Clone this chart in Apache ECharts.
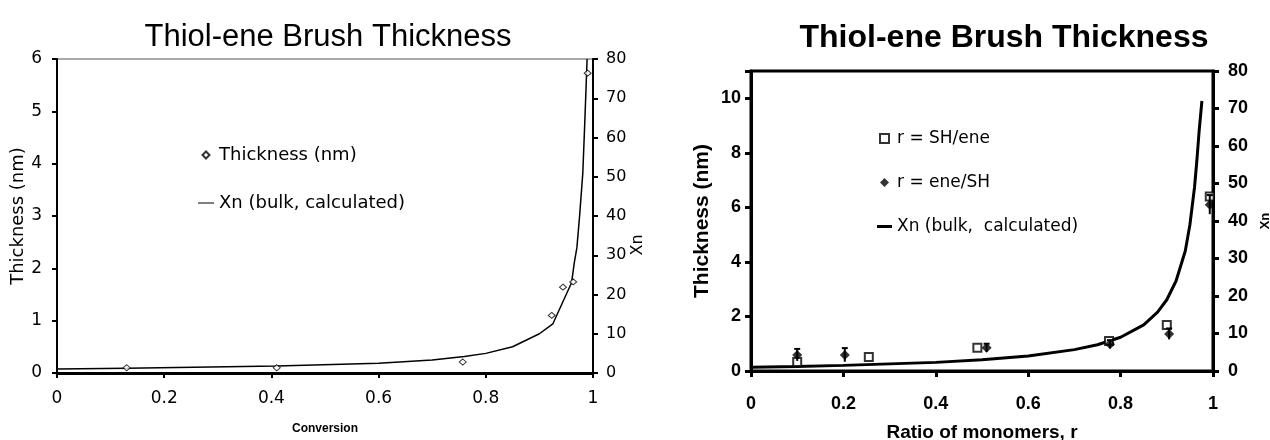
<!DOCTYPE html>
<html>
<head>
<meta charset="utf-8">
<script src="https://cdn.jsdelivr.net/npm/echarts@6/dist/echarts.min.js"></script>
<style>
html, body { margin: 0; background: #fff; }
#main { width: 1270px; height: 440px; }
</style>
</head>
<body>
<div id="main"></div>
<script>
// left chart: thickness vs conversion
var convTicks = ['0', '0.2', '0.4', '0.6', '0.8', '1'];
var convThickX = [0.13, 0.41, 0.757, 0.923, 0.944, 0.963, 0.99];
var convThickY = [0.10, 0.10, 0.21, 1.10, 1.64, 1.74, 5.73];
var convXnX = [0, 0.13, 0.41, 0.6, 0.7, 0.76, 0.8, 0.85, 0.9, 0.925, 0.94, 0.95, 0.96, 0.965, 0.97, 0.975, 0.981, 0.985, 0.989];
var convXnY = [1, 1.2, 1.8, 2.5, 3.3, 4.2, 5, 6.7, 10, 12.5, 17, 20, 23, 28, 32, 40, 51, 65, 80];

// right chart: thickness vs ratio of monomers
var ratioTicks = ['0', '0.2', '0.4', '0.6', '0.8', '1'];
var ratioShX = [0.10, 0.255, 0.49, 0.775, 0.90, 0.993];
var ratioShY = [0.33, 0.51, 0.85, 1.10, 1.69, 6.4];
var ratioEneX = [0.10, 0.203, 0.51, 0.777, 0.905, 0.993];
var ratioEneY = [0.59, 0.59, 0.85, 0.98, 1.36, 6.1];
var ratioEneErr = [0.22, 0.25, 0.15, 0.15, 0.2, 0.35];
var ratioXnX = [0, 0.1, 0.2, 0.3, 0.4, 0.5, 0.6, 0.7, 0.75, 0.8, 0.85, 0.88, 0.9, 0.92, 0.94, 0.95, 0.96, 0.965, 0.97, 0.976];
var ratioXnY = [1, 1.2, 1.5, 1.9, 2.3, 3, 4, 5.7, 7, 9, 12.3, 15.7, 19, 24, 32, 39, 49, 56, 64, 72];

function pairs(xs, ys) {
	var out = [];
	for (var i = 0; i < xs.length; i++) out.push([xs[i], ys[i]]);
	return out;
}

var sans = 'Liberation Sans';
var wide = 'DejaVu Sans';
var chart = echarts.init(document.getElementById('main'));

var option = {
	animation: false,
	backgroundColor: '#fff',
	title: [
		{ text: 'Thiol-ene Brush Thickness', left: 323, top: 17, textAlign: 'center',
		  textStyle: { fontFamily: sans, fontSize: 31, fontWeight: 'normal', color: '#000' } },
		{ text: 'Thiol-ene Brush Thickness', left: 999, top: 17, textAlign: 'center',
		  textStyle: { fontFamily: sans, fontSize: 32, fontWeight: 'bold', color: '#000' } }
	],
	legend: [
		{ orient: 'vertical', left: 193, top: 141, itemGap: 30, itemWidth: 16, itemHeight: 7,
		  data: [
		  	{ name: 'Thickness (nm)', icon: 'path://M4,0L8,4L4,8L0,4Z' },
		  	{ name: 'Xn (bulk, calculated)', icon: 'path://M0,0L16,0L16,1L0,1Z' }
		  ],
		  textStyle: { fontFamily: wide, fontSize: 18, color: '#000' } },
		{ orient: 'vertical', left: 872, top: 125, itemGap: 27, itemWidth: 15, itemHeight: 9,
		  data: [
		  	{ name: 'r = SH/ene', icon: 'path://M0,0L8,0L8,8L0,8Z' },
		  	{ name: 'r = ene/SH', icon: 'path://M4,0L8,4L4,8L0,4Z' },
		  	{ name: 'Xn (bulk,  calculated)', icon: 'path://M0,0L15,0L15,3L0,3Z' }
		  ],
		  textStyle: { fontFamily: wide, fontSize: 17, color: '#000' } }
	],
	grid: [
		{ left: 57, top: 59, width: 536, height: 314, show: true, borderColor: '#555', borderWidth: 1 },
		{ left: 751, top: 71, width: 462, height: 300, show: true, borderColor: '#000', borderWidth: 3,
		  outerBoundsMode: 'none' }
	],
	xAxis: [
		{ gridIndex: 0, type: 'value', min: 0, max: 1, interval: 0.2,
		  name: 'Conversion', nameLocation: 'middle', nameGap: 50,
		  nameTextStyle: { fontFamily: sans, fontSize: 12, fontWeight: 'bold', color: '#000' },
		  axisLine: { lineStyle: { color: '#000', width: 3 } },
		  axisTick: { length: 5, lineStyle: { color: '#000', width: 2 } },
		  axisLabel: { fontFamily: wide, fontSize: 17, color: '#000', margin: 17,
		    formatter: function (v) { return convTicks[Math.round(v * 5)]; } },
		  splitLine: { show: false } },
		{ gridIndex: 1, type: 'value', min: 0, max: 1, interval: 0.2,
		  name: 'Ratio of monomers, r', nameLocation: 'middle', nameGap: 52,
		  nameTextStyle: { fontFamily: sans, fontSize: 19, fontWeight: 'bold', color: '#000' },
		  axisLine: { lineStyle: { color: '#000', width: 3 } },
		  axisTick: { length: 6, lineStyle: { color: '#000', width: 3 } },
		  axisLabel: { fontFamily: sans, fontSize: 18, fontWeight: 'bold', color: '#000', margin: 24,
		    formatter: function (v) { return ratioTicks[Math.round(v * 5)]; } },
		  splitLine: { show: false } }
	],
	yAxis: [
		{ gridIndex: 0, type: 'value', min: 0, max: 6, interval: 1,
		  name: 'Thickness (nm)', nameLocation: 'middle', nameGap: 27, nameRotate: 90,
		  nameTextStyle: { fontFamily: wide, fontSize: 18, color: '#000' },
		  axisLine: { show: true, lineStyle: { color: '#000', width: 2 } },
		  axisTick: { show: true, length: 5, lineStyle: { color: '#000', width: 2 } },
		  axisLabel: { fontFamily: wide, fontSize: 17, color: '#000', margin: 15 },
		  splitLine: { show: false } },
		{ gridIndex: 0, type: 'value', min: 0, max: 80, interval: 10, position: 'right',
		  name: 'Xn', nameLocation: 'middle', nameGap: 10, nameRotate: 90,
		  nameTextStyle: { fontFamily: wide, fontSize: 16, color: '#000', padding: [0, 58, 0, 0] },
		  axisLine: { show: true, lineStyle: { color: '#000', width: 2 } },
		  axisTick: { show: true, length: 5, lineStyle: { color: '#000', width: 2 } },
		  axisLabel: { fontFamily: wide, fontSize: 16, color: '#000', margin: 13 },
		  splitLine: { show: false } },
		{ gridIndex: 1, type: 'value', min: 0, max: 11, interval: 2,
		  name: 'Thickness (nm)', nameLocation: 'middle', nameGap: 38, nameRotate: 90,
		  nameTextStyle: { fontFamily: sans, fontSize: 21, fontWeight: 'bold', color: '#000' },
		  axisLine: { show: true, lineStyle: { color: '#000', width: 3 } },
		  axisTick: { show: true, length: 6, lineStyle: { color: '#000', width: 3 } },
		  axisLabel: { fontFamily: sans, fontSize: 18, fontWeight: 'bold', color: '#000', margin: 10,
		    formatter: function (v) { return v > 10 ? '' : String(v); } },
		  splitLine: { show: false } },
		{ gridIndex: 1, type: 'value', min: 0, max: 80, interval: 10, position: 'right',
		  name: 'Xn', nameLocation: 'middle', nameGap: 46, nameRotate: 90,
		  nameTextStyle: { fontFamily: sans, fontSize: 13, fontWeight: 'bold', color: '#000' },
		  axisLine: { show: true, lineStyle: { color: '#000', width: 3 } },
		  axisTick: { show: true, length: 6, lineStyle: { color: '#000', width: 3 } },
		  axisLabel: { fontFamily: sans, fontSize: 18, fontWeight: 'bold', color: '#000', margin: 15 },
		  splitLine: { show: false } }
	],
	series: [
		{ name: 'Thickness (nm)', type: 'scatter', xAxisIndex: 0, yAxisIndex: 0,
		  symbol: 'diamond', symbolSize: [7, 6],
		  itemStyle: { color: '#fff', borderColor: '#000', borderWidth: 1 },
		  data: pairs(convThickX, convThickY), z: 3 },
		{ name: 'Xn (bulk, calculated)', type: 'line', xAxisIndex: 0, yAxisIndex: 1,
		  symbol: 'none', lineStyle: { color: '#000', width: 1.5 }, itemStyle: { color: '#000' },
		  data: pairs(convXnX, convXnY) },
		{ name: 'r = SH/ene', type: 'scatter', xAxisIndex: 1, yAxisIndex: 2,
		  symbol: 'rect', symbolSize: 8,
		  itemStyle: { color: '#fff', borderColor: '#000', borderWidth: 2 },
		  data: pairs(ratioShX, ratioShY), z: 3 },
		{ name: 'r = ene/SH', type: 'scatter', xAxisIndex: 1, yAxisIndex: 2,
		  symbol: 'diamond', symbolSize: 10,
		  itemStyle: { color: '#000' },
		  data: pairs(ratioEneX, ratioEneY), z: 4 },
		{ name: 'r = ene/SH', type: 'custom', xAxisIndex: 1, yAxisIndex: 2,
		  renderItem: function (params, api) {
		  	var x = api.value(0), y = api.value(1), e = api.value(2);
		  	var lo = api.coord([x, y - e]), hi = api.coord([x, y + e]);
		  	return { type: 'group', children: [
		  		{ type: 'line', shape: { x1: lo[0], y1: lo[1], x2: hi[0], y2: hi[1] }, style: { stroke: '#000', lineWidth: 2 } },
		  		{ type: 'line', shape: { x1: hi[0] - 3, y1: hi[1], x2: hi[0] + 3, y2: hi[1] }, style: { stroke: '#000', lineWidth: 2 } }
		  	] };
		  },
		  data: ratioEneX.map(function (x, i) { return [x, ratioEneY[i], ratioEneErr[i]]; }), z: 4 },
		{ name: 'Xn (bulk,  calculated)', type: 'line', xAxisIndex: 1, yAxisIndex: 3,
		  symbol: 'none', lineStyle: { color: '#000', width: 3 }, itemStyle: { color: '#000' },
		  data: pairs(ratioXnX, ratioXnY) }
	]
};
chart.setOption(option);
</script>
</body>
</html>
